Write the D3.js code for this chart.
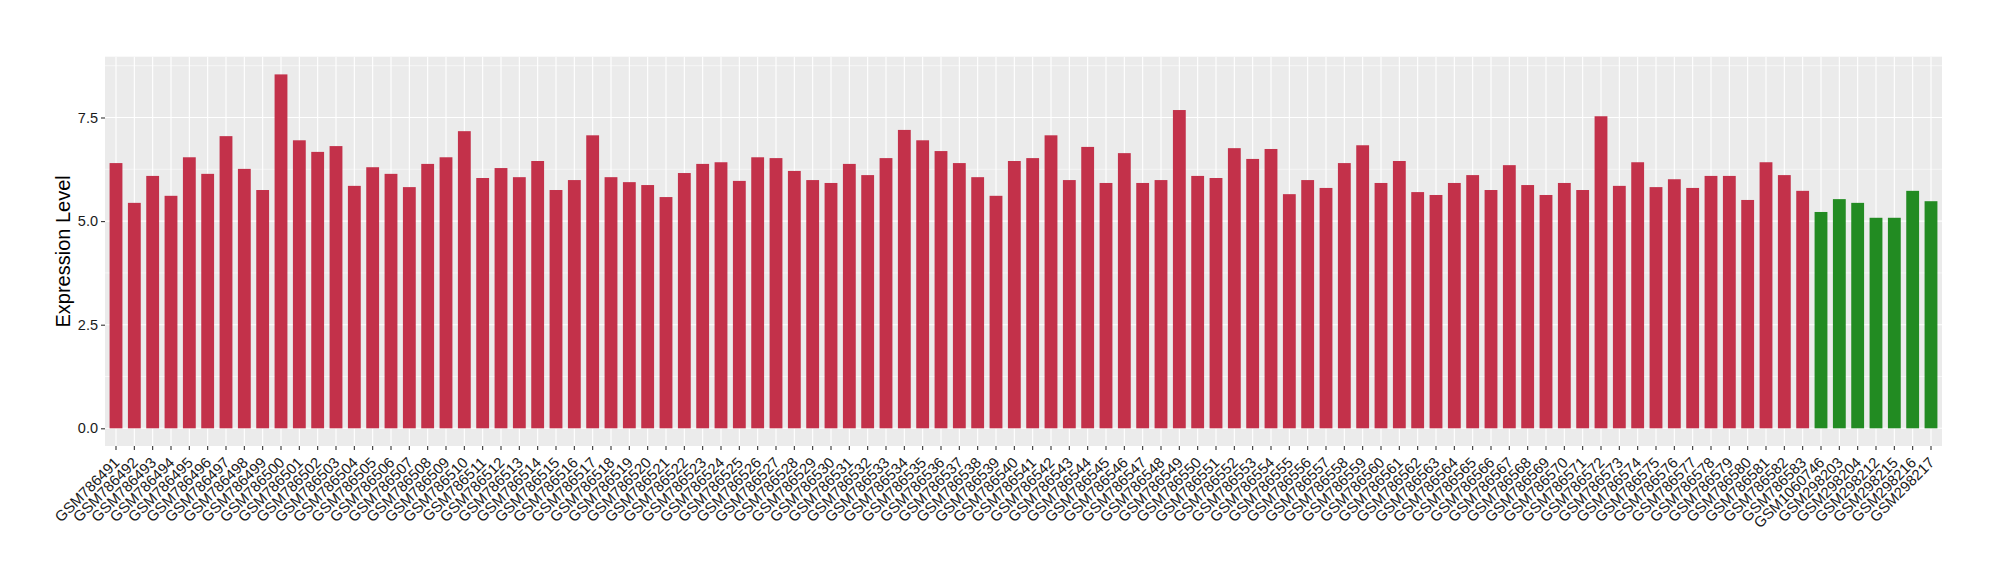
<!DOCTYPE html>
<html>
<head>
<meta charset="utf-8">
<script src="https://cdn.jsdelivr.net/npm/d3@7"></script>
<style>
  html, body { margin: 0; padding: 0; background: #fff; }
  svg { display: block; }
  text { font-family: "Liberation Sans", Arial, Helvetica, sans-serif; }
</style>
</head>
<body>
<svg id="chart" width="2000" height="580"></svg>
<script>
const redSamples = [];
for (let i = 786491; i <= 786583; i++) redSamples.push("GSM" + i);
const greenSamples = ["GSM1060746", "GSM298203", "GSM298204", "GSM298212", "GSM298215", "GSM298216", "GSM298217"];
const categories = redSamples.concat(greenSamples);

const redValues = [
  6.40, 5.44, 6.09, 5.61, 6.54, 6.14, 7.05, 6.26, 5.75, 8.54,
  6.95, 6.67, 6.81, 5.85, 6.30, 6.14, 5.82, 6.38, 6.54, 7.17,
  6.04, 6.28, 6.06, 6.45, 5.75, 5.99, 7.07, 6.06, 5.94, 5.87,
  5.58, 6.16, 6.38, 6.42, 5.97, 6.54, 6.52, 6.21, 5.99, 5.92,
  6.38, 6.11, 6.52, 7.20, 6.95, 6.69, 6.40, 6.06, 5.61, 6.45,
  6.52, 7.07, 5.99, 6.79, 5.92, 6.64, 5.92, 5.99, 7.68, 6.09,
  6.04, 6.76, 6.50, 6.74, 5.65, 5.99, 5.80, 6.40, 6.83, 5.92,
  6.45, 5.70, 5.63, 5.92, 6.11, 5.75, 6.35, 5.87, 5.63, 5.92,
  5.75, 7.53, 5.85, 6.42, 5.82, 6.01, 5.80, 6.09, 6.09, 5.51,
  6.42, 6.11, 5.73
];
const greenValues = [5.22, 5.53, 5.44, 5.08, 5.08, 5.73, 5.48];
const values = redValues.concat(greenValues);
const groups = redValues.map(() => "red").concat(greenValues.map(() => "green"));

const yMajorTicks = [0, 2.5, 5, 7.5];
const yMinorTicks = [1.25, 3.75, 6.25, 8.75];
const yTickLabels = ["0.0", "2.5", "5.0", "7.5"];
const yTitle = "Expression Level";

const colors = { red: "#C3314A", green: "#228B22" };

const data = categories.map((c, i) => ({ name: c, value: values[i], group: groups[i] }));

const panel = { left: 105, right: 1942, top: 56.7, bottom: 446 };
const svg = d3.select("#chart");

const x = d3.scaleBand()
  .domain(categories)
  .range([panel.left, panel.right])
  .paddingInner(0.3)
  .paddingOuter(0.25);

const vmax = d3.max(values);
const y = d3.scaleLinear()
  .domain([-0.05 * vmax, vmax * 1.05])
  .range([panel.bottom, panel.top]);

// panel background
svg.append("rect")
  .attr("x", panel.left).attr("y", panel.top)
  .attr("width", panel.right - panel.left)
  .attr("height", panel.bottom - panel.top)
  .attr("fill", "#EBEBEB");

// minor grid
svg.append("g").selectAll("line").data(yMinorTicks).join("line")
  .attr("x1", panel.left).attr("x2", panel.right)
  .attr("y1", d => y(d)).attr("y2", d => y(d))
  .attr("stroke", "#fff").attr("stroke-width", 0.55);

// major grid
svg.append("g").selectAll("line").data(yMajorTicks).join("line")
  .attr("x1", panel.left).attr("x2", panel.right)
  .attr("y1", d => y(d)).attr("y2", d => y(d))
  .attr("stroke", "#fff").attr("stroke-width", 1.1);

svg.append("g").selectAll("line").data(categories).join("line")
  .attr("x1", d => x(d) + x.bandwidth() / 2).attr("x2", d => x(d) + x.bandwidth() / 2)
  .attr("y1", panel.top).attr("y2", panel.bottom)
  .attr("stroke", "#fff").attr("stroke-width", 1.1);

// bars
svg.append("g").selectAll("rect").data(data).join("rect")
  .attr("x", d => x(d.name))
  .attr("width", x.bandwidth())
  .attr("y", d => y(d.value))
  .attr("height", d => y(0) - y(d.value))
  .attr("fill", d => colors[d.group]);

// y axis
const yAxis = d3.axisLeft(y)
  .tickValues(yMajorTicks)
  .tickFormat((d, i) => yTickLabels[i])
  .tickSize(4)
  .tickPadding(3);
const gy = svg.append("g").attr("transform", `translate(${panel.left},0)`).call(yAxis);
gy.select(".domain").remove();
gy.selectAll(".tick line").attr("stroke", "#333").attr("stroke-width", 1.1);
gy.selectAll(".tick text").attr("font-size", 14.5).attr("fill", "#1a1a1a")
  .style("font-family", '"Liberation Sans", Arial, sans-serif');

// x axis
const xAxis = d3.axisBottom(x).tickSize(4).tickSizeOuter(0);
const gx = svg.append("g").attr("transform", `translate(0,${panel.bottom})`).call(xAxis);
gx.select(".domain").remove();
gx.selectAll(".tick line").attr("stroke", "#333").attr("stroke-width", 1.1);
gx.selectAll(".tick text")
  .attr("font-size", 15).attr("fill", "#1a1a1a")
  .style("font-family", '"Liberation Sans", Arial, sans-serif')
  .attr("text-anchor", "end")
  .attr("y", 0).attr("dy", 0)
  .attr("transform", "translate(4.5,17.5) rotate(-45)");

// y title
svg.append("text")
  .attr("transform", `translate(70,${(panel.top + panel.bottom) / 2}) rotate(-90)`)
  .attr("text-anchor", "middle")
  .attr("font-size", 20)
  .attr("fill", "#000")
  .text(yTitle);
</script>
</body>
</html>
